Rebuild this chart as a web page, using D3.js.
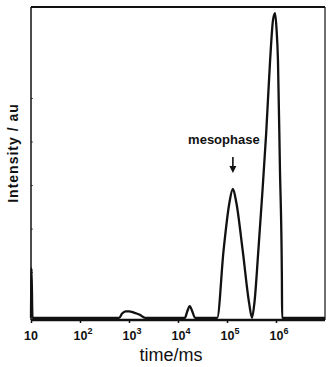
<!DOCTYPE html>
<html>
<head>
<meta charset="utf-8">
<script src="https://cdn.jsdelivr.net/npm/d3@7"></script>
<style>
  body { margin: 0; background: #fff; }
  text { font-family: "Liberation Sans", Arial, sans-serif; fill: #111; }
</style>
</head>
<body>
<div id="chart"></div>
<script>
// exponent of time (log10 ms) and intensity
const logTime = [1.00, 1.01, 1.03,
    2.80, 2.86, 2.93, 3.00, 3.10, 3.22, 3.33,
    4.14, 4.19, 4.24, 4.29, 4.35,
    4.80, 4.93, 5.05, 5.12, 5.19, 5.32, 5.45, 5.51,
    5.56, 5.64, 5.72, 5.80, 5.88, 5.94, 5.98, 6.01, 6.04, 6.08, 6.12, 6.125,
    7.00]
const intensity = [-0.05, 1.09, -0.05,
    -0.05, 0.05, 0.10, 0.10, 0.07, 0.02, -0.05,
    -0.05, 0.10, 0.22, 0.10, -0.05,
    -0.05, 1.5, 2.6, 2.91, 2.6, 1.5, 0.3, -0.05,
    0.3, 1.5, 2.8, 4.2, 5.87, 6.8, 6.95, 6.6, 5.87, 3.4, 0.9, -0.05,
    -0.05]

const xTicks = [1e1, 1e2, 1e3, 1e4, 1e5, 1e6]
const xTickExp = ["", "2", "3", "4", "5", "6"]
const yTicks = [1, 2, 3, 4, 5]

const annotation = {label: "mesophase", logT: 5.12, value: 2.91}

const width = 336, height = 367
const margin = {top: 7, right: 11, bottom: 47, left: 31}

const svg = d3.select("#chart").append("svg")
    .attr("width", width)
    .attr("height", height)

const x = d3.scaleLog()
    .domain([1e1, 1e7])
    .range([margin.left, width - margin.right])

const y = d3.scaleLinear()
    .domain([-0.1, 7.09])
    .range([height - margin.bottom, margin.top])

const data = logTime.map((e, i) => ({t: Math.pow(10, e), v: intensity[i]}))

// X axis
const xAxis = svg.append("g")
    .attr("transform", `translate(0,${height - margin.bottom})`)
    .call(d3.axisBottom(x).tickValues(xTicks).tickSize(3).tickFormat(""))
xAxis.select(".domain").remove()
xAxis.selectAll(".tick line").attr("stroke", "#111").attr("stroke-width", 1.5)

xTicks.forEach((t, i) => {
    const txt = svg.append("text")
        .attr("x", x(t) + (xTickExp[i] ? 3 : 0))
        .attr("y", height - margin.bottom + 20)
        .attr("text-anchor", "middle")
        .attr("font-size", 12.5)
        .attr("font-weight", "bold")
    txt.append("tspan").text("10")
    if (xTickExp[i]) {
        txt.append("tspan")
            .attr("dy", -6)
            .attr("font-size", 9)
            .text(xTickExp[i])
    }
})

svg.append("text")
    .attr("x", 171)
    .attr("y", 361)
    .attr("text-anchor", "middle")
    .attr("font-size", 18)
    .text("time/ms")

// Y axis ticks (no labels)
const yAxis = svg.append("g")
    .attr("transform", `translate(${margin.left},0)`)
    .call(d3.axisRight(y).tickValues(yTicks).tickSize(2).tickFormat(""))
yAxis.select(".domain").remove()
yAxis.selectAll(".tick line").attr("stroke", "#555").attr("stroke-width", 1)

svg.append("text")
    .attr("transform", `translate(18,153) rotate(-90)`)
    .attr("text-anchor", "middle")
    .attr("font-size", 14)
    .attr("font-weight", "bold")
    .attr("letter-spacing", 1)
    .text("Intensity / au")

// frame
const x0 = x.range()[0], x1 = x.range()[1], y0 = y.range()[0], y1 = y.range()[1]
svg.append("line").attr("x1", x0).attr("x2", x1).attr("y1", y1).attr("y2", y1)
    .attr("stroke", "#111").attr("stroke-width", 2.2)
svg.append("line").attr("x1", x0).attr("x2", x1).attr("y1", y0).attr("y2", y0)
    .attr("stroke", "#111").attr("stroke-width", 2.5)
svg.append("line").attr("x1", x0).attr("x2", x0).attr("y1", y1).attr("y2", y0)
    .attr("stroke", "#111").attr("stroke-width", 1.5)
svg.append("line").attr("x1", x1).attr("x2", x1).attr("y1", y1).attr("y2", y0)
    .attr("stroke", "#111").attr("stroke-width", 1.2)

// curve
const line = d3.line()
    .curve(d3.curveMonotoneX)
    .x(d => x(d.t))
    .y(d => y(d.v))

svg.append("path")
    .datum(data)
    .attr("fill", "none")
    .attr("stroke", "#111")
    .attr("stroke-width", 2.3)
    .attr("stroke-linejoin", "round")
    .attr("d", line)

// mesophase annotation
const ax = x(Math.pow(10, annotation.logT))
const ay = y(annotation.value)
svg.append("text")
    .attr("x", ax - 9)
    .attr("y", ay - 45)
    .attr("text-anchor", "middle")
    .attr("font-size", 13)
    .attr("font-weight", "bold")
    .text(annotation.label)
svg.append("line")
    .attr("x1", ax).attr("x2", ax)
    .attr("y1", ay - 32).attr("y2", ay - 22)
    .attr("stroke", "#111").attr("stroke-width", 1.6)
svg.append("path")
    .attr("d", `M${ax - 3.5},${ay - 23}L${ax + 3.5},${ay - 23}L${ax},${ay - 16}Z`)
    .attr("fill", "#111")
</script>
</body>
</html>
